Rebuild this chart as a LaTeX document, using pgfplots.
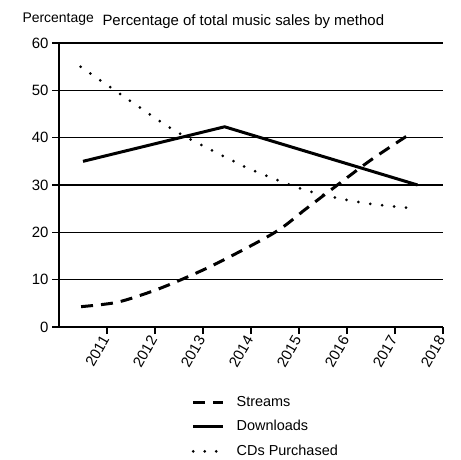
\documentclass[border=0pt]{standalone}
\usepackage{fontspec}
\setmainfont{Liberation Sans}
\usepackage{pgfplots}
\pgfplotsset{compat=1.18}
\pgfplotsset{
    linelegend/.style={legend image code/.code={\draw[##1] (0bp,0bp) -- (30bp,0bp);}},
    dotlegend/.style={legend image code/.code={\draw[##1, dash pattern=on 0bp off 11.5bp] (0bp,0bp) -- (24bp,0bp);}},
}

\begin{document}
\begin{tikzpicture}
\useasboundingbox (-59bp,-133bp) rectangle (402bp,327bp);
\begin{axis}[
    at={(0,0)}, anchor=south west,
    scale only axis,
    width=384bp, height=284bp,
    xmin=2010, xmax=2018,
    ymin=0, ymax=60,
    clip=false,
    axis lines*=left,
    axis line style={line width=1.3bp, black},
    xtick={2011,...,2018},
    ytick={0,10,...,60},
    tick align=outside,
    major tick length=7bp,
    tick style={line width=1.1bp, black},
    ymajorgrids,
    major grid style={line width=1.1bp, black},
    tick label style={font=\fontsize{15}{17}\selectfont},
    x tick label style={rotate=60, anchor=east, /pgf/number format/1000 sep={}},
    /pgf/number format/assume math mode=true,
    legend cell align=left,
    legend style={
        draw=none, fill=none,
        at={(axis description cs:0.345,-0.24)}, anchor=north west,
        font=\fontsize{14.5}{17}\selectfont,
        inner sep=0pt,
        row sep=10.5bp, column sep=12bp,
        nodes={inner sep=0pt, text height=11bp, text depth=3bp},
    },
    linelegend,
]

% Streams
\addplot [black, line width=3bp, dash pattern=on 12bp off 8bp, smooth, tension=0.5] coordinates {
    (2010.46,4.3) (2011.2,5.2) (2011.9,7.4) (2012.5,9.8) (2013.3,13.5)
    (2014.5,20) (2015.15,25) (2015.8,30) (2016.5,35.3) (2017.27,40.5)
};
\addlegendentry{Streams}

% Downloads
\addplot [black, line width=3bp] coordinates {
    (2010.5,35) (2013.45,42.3) (2017.47,30)
};
\addlegendentry{Downloads}

% CDs purchased
\addplot [black, line width=3bp, line cap=round, dash pattern=on 0bp off 12bp, smooth, tension=0.5, dotlegend] coordinates {
    (2010.45,55) (2011.45,48) (2012.46,41.2) (2013.74,34.5) (2014.14,32.7)
    (2015.04,29.2) (2015.77,27.3) (2016.5,26) (2017.26,25.2)
};
\addlegendentry{CDs Purchased}

\node[anchor=base, font=\fontsize{15}{17}\selectfont] at (axis description cs:0.48,1) [yshift=18bp]
    {Percentage of total music sales by method};
\node[anchor=base west, font=\fontsize{14}{16}\selectfont] at (axis description cs:0,1) [xshift=-40bp, yshift=21bp]
    {Percentage};
\end{axis}
\end{tikzpicture}
\end{document}
